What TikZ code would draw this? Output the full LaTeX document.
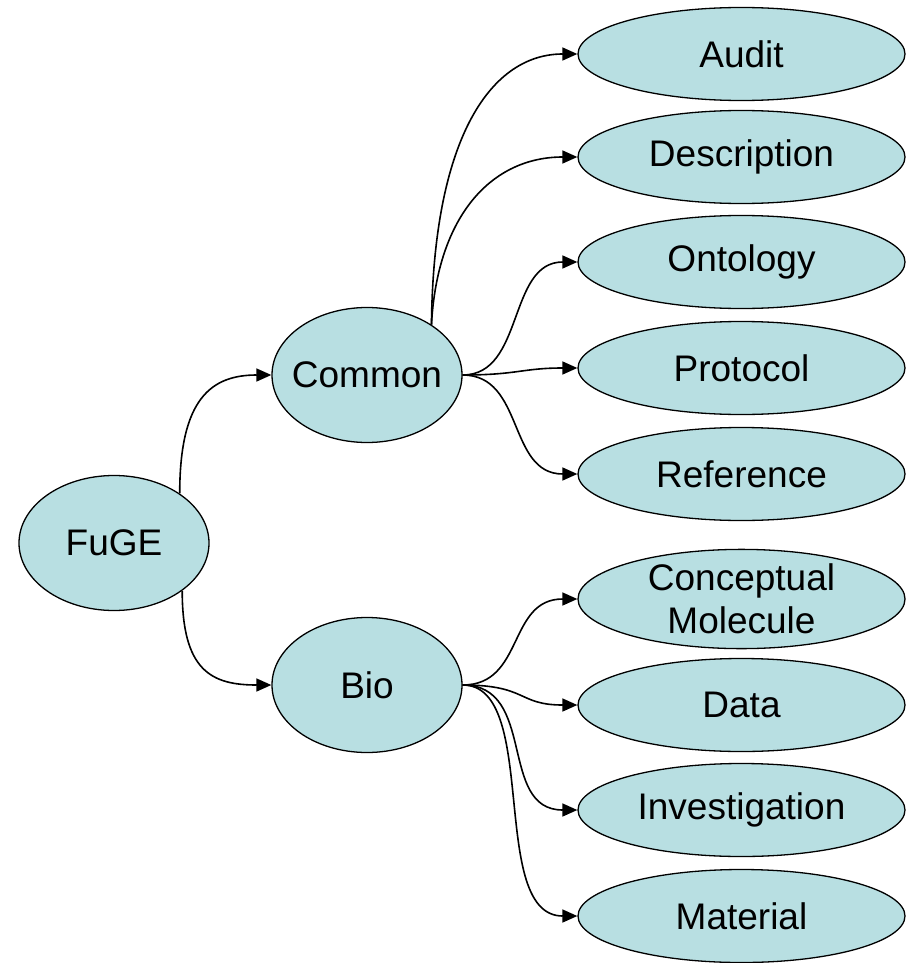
\documentclass[tikz,border=0pt]{standalone}
\usepackage{fontspec}
\setmainfont{Liberation Sans}
\usetikzlibrary{shapes.geometric,arrows.meta}
\definecolor{bubble}{HTML}{B8DFE2}
\tikzset{
  pkg/.style={ellipse, draw=black, line width=1.3pt, fill=bubble, inner sep=0pt,
    font=\fontsize{37}{43}\selectfont, align=center},
  small/.style={pkg, minimum width=190pt, minimum height=135pt},
  wide/.style={pkg, minimum width=327pt, minimum height=93pt},
  link/.style={line width=1.6pt, -{Triangle[length=15pt,width=13pt]}}
}
\begin{document}
\begin{tikzpicture}[x=1pt,y=-1pt]
\useasboundingbox (0,0) rectangle (906,963);

% root and the two top-level packages (fixed-size bubbles)
\node[small] (fuge)   at (114,543) {\makebox[0pt]{FuGE}};
\node[small] (common) at (367,375) {\makebox[0pt]{Common}};
\node[small] (bio)    at (367,685) {\makebox[0pt]{Bio}};

% Common sub-packages
\node[wide] (audit)    at (741.5,54)  {Audit};
\node[wide] (descr)    at (741.5,157) {Description};
\node[wide] (onto)     at (741.5,262) {Ontology};
\node[wide] (proto)    at (741.5,368) {Protocol};
\node[wide] (refer)    at (741.5,474) {Reference};

% Bio sub-packages
\node[wide] (concept)  at (741.5,599) {Conceptual\\Molecule};
\node[wide] (data)     at (741.5,705) {Data};
\node[wide] (invest)   at (741.5,810) {Investigation};
\node[wide] (material) at (741.5,916) {Material};

% FuGE -> Common, Bio
\draw[link] (fuge.37) .. controls ++(0,-95) and ++(-60,0) .. (common.west);
\draw[link] (fuge.-35) .. controls ++(0,80) and ++(-60,0) .. (bio.west);

% Common -> children
\draw[link] (common.38) .. controls ++(2,-190) and ++(-85,0) .. (audit.west);
\draw[link] (common.38) .. controls ++(6,-110) and ++(-85,0) .. (descr.west);
\draw[link] (common.east) .. controls ++(62,0) and ++(-70,0) .. (onto.west);
\draw[link] (common.east) .. controls ++(55,0) and ++(-55,0) .. (proto.west);
\draw[link] (common.east) .. controls ++(62,0) and ++(-70,0) .. (refer.west);

% Bio -> children
\draw[link] (bio.east) .. controls ++(62,0) and ++(-70,0) .. (concept.west);
\draw[link] (bio.east) .. controls ++(65,0) and ++(-60,0) .. (data.west);
\draw[link] (bio.east) .. controls ++(75,0) and ++(-80,0) .. (invest.west);
\draw[link] (bio.east) .. controls ++(78,0) and ++(-90,0) .. (material.west);
\end{tikzpicture}
\end{document}
